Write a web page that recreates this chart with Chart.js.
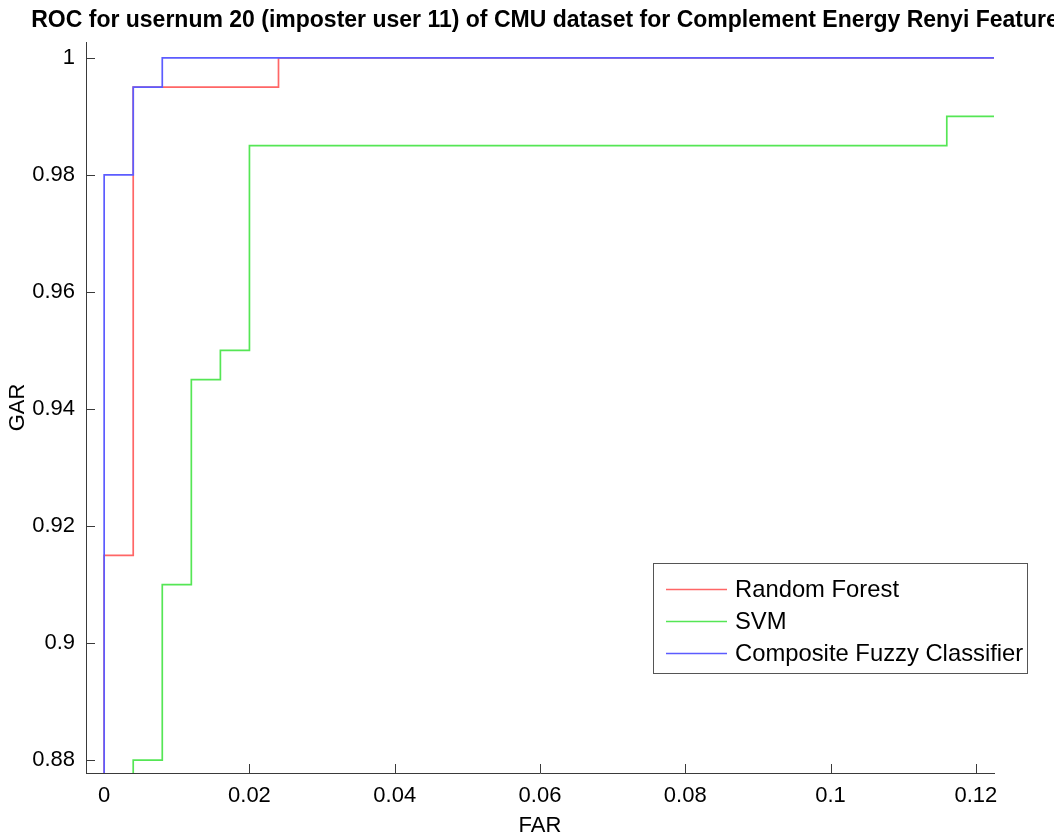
<!DOCTYPE html>
<html>
<head>
<meta charset="utf-8">
<title>ROC usernum 20</title>
<script src="https://cdn.jsdelivr.net/npm/chart.js@4.4.1/dist/chart.umd.min.js"></script>
<style>
    html, body { margin: 0; padding: 0; background: #fff; }
    #wrap { width: 1054px; height: 837px; }
</style>
</head>
<body>
<div id="wrap"><canvas id="roc-chart" width="1054" height="837"></canvas></div>
<script>
// ROC curves: FAR (x) / GAR (y) vertices, one pair of arrays per classifier
const rfFar = [0, 0, 0.004, 0.004, 0.024, 0.024, 0.1225];
const rfGar = [0, 0.915, 0.915, 0.995, 0.995, 1, 1];

const svmFar = [0, 0.004, 0.004, 0.008, 0.008, 0.012, 0.012, 0.016, 0.016, 0.02, 0.02, 0.116, 0.116, 0.1225];
const svmGar = [0, 0, 0.88, 0.88, 0.91, 0.91, 0.945, 0.945, 0.95, 0.95, 0.985, 0.985, 0.99, 0.99];

const cfcFar = [0, 0, 0.004, 0.004, 0.008, 0.008, 0.1225];
const cfcGar = [0, 0.98, 0.98, 0.995, 0.995, 1, 1];

const xTicks = [0, 0.02, 0.04, 0.06, 0.08, 0.1, 0.12];
const xTickLabels = ['0', '0.02', '0.04', '0.06', '0.08', '0.1', '0.12'];
const yTicks = [0.88, 0.9, 0.92, 0.94, 0.96, 0.98, 1];
const yTickLabels = ['0.88', '0.9', '0.92', '0.94', '0.96', '0.98', '1'];

const TITLE = 'ROC for usernum 20 (imposter user 11) of CMU dataset for Complement Energy Renyi Feature';
const FONT = "'Liberation Sans', Arial, sans-serif";
const AXIS_COLOR = '#3a3a3a';

function toPoints(xs, ys) {
    return xs.map((x, i) => ({ x: x, y: ys[i] }));
}

// inward tick marks, drawn under the curves
const innerTicks = {
    id: 'innerTicks',
    beforeDatasetsDraw(chart) {
        const { ctx, chartArea, scales } = chart;
        const len = 9;
        ctx.save();
        ctx.strokeStyle = AXIS_COLOR;
        ctx.lineWidth = 1;
        ctx.beginPath();
        scales.x.ticks.forEach(t => {
            const px = Math.round(scales.x.getPixelForValue(t.value)) + 0.5;
            ctx.moveTo(px, chartArea.bottom);
            ctx.lineTo(px, chartArea.bottom - len);
        });
        scales.y.ticks.forEach(t => {
            const py = Math.round(scales.y.getPixelForValue(t.value)) + 0.5;
            ctx.moveTo(chartArea.left, py);
            ctx.lineTo(chartArea.left + len, py);
        });
        ctx.stroke();
        ctx.restore();
    }
};

// boxed legend sitting inside the plot area
const boxLegend = {
    id: 'boxLegend',
    afterDatasetsDraw(chart) {
        const ctx = chart.ctx;
        const box = { x: 653.5, y: 563.5, w: 374, h: 110 };
        ctx.save();
        ctx.fillStyle = '#fff';
        ctx.fillRect(box.x, box.y, box.w, box.h);
        ctx.strokeStyle = '#555';
        ctx.lineWidth = 1;
        ctx.strokeRect(box.x, box.y, box.w, box.h);
        ctx.font = '23.8px ' + FONT;
        ctx.textBaseline = 'middle';
        ctx.textAlign = 'left';
        chart.data.datasets.forEach((ds, i) => {
            const y = 589.5 + i * 32;
            ctx.strokeStyle = ds.borderColor;
            ctx.lineWidth = ds.borderWidth;
            ctx.beginPath();
            ctx.moveTo(666, y);
            ctx.lineTo(727, y);
            ctx.stroke();
            ctx.fillStyle = '#000';
            ctx.fillText(ds.label, 735, y + 1);
        });
        ctx.restore();
    }
};

const plotTitle = {
    id: 'plotTitle',
    afterDraw(chart) {
        const ctx = chart.ctx;
        ctx.save();
        ctx.font = 'bold 23px ' + FONT;
        ctx.fillStyle = '#000';
        ctx.textAlign = 'center';
        ctx.textBaseline = 'middle';
        ctx.fillText(TITLE, 545, 21);
        ctx.restore();
    }
};

function renderChart() {
    const ctx = document.getElementById('roc-chart');

    new Chart(ctx, {
        type: 'line',
        data: {
            datasets: [{
                label: 'Random Forest',
                data: toPoints(rfFar, rfGar),
                borderColor: '#ff6666',
                borderWidth: 1.7,
                order: 3
            }, {
                label: 'SVM',
                data: toPoints(svmFar, svmGar),
                borderColor: '#55e655',
                borderWidth: 1.7,
                order: 2
            }, {
                label: 'Composite Fuzzy Classifier',
                data: toPoints(cfcFar, cfcGar),
                borderColor: '#5c5cff',
                borderWidth: 1.7,
                order: 1
            }]
        },
        options: {
            responsive: false,
            animation: false,
            events: [],
            elements: {
                point: { radius: 0 },
                line: { tension: 0, fill: false }
            },
            layout: {
                padding: { top: 42, right: 60, bottom: 0, left: 0 }
            },
            plugins: {
                legend: { display: false },
                title: { display: false },
                tooltip: { enabled: false }
            },
            scales: {
                x: {
                    type: 'linear',
                    min: -0.0025,
                    max: 0.1225,
                    afterBuildTicks: scale => {
                        scale.ticks = xTicks.map(v => ({ value: v }));
                    },
                    afterFit: scale => {
                        scale.height = 64;
                    },
                    ticks: {
                        autoSkip: false,
                        maxRotation: 0,
                        padding: 10,
                        color: '#000',
                        font: { family: FONT, size: 22 },
                        callback: (value, index) => xTickLabels[index]
                    },
                    grid: { display: false, drawTicks: false },
                    border: { display: true, color: AXIS_COLOR, width: 1 },
                    title: {
                        display: true,
                        text: 'FAR',
                        color: '#000',
                        font: { family: FONT, size: 22, lineHeight: 1 },
                        padding: { top: 0, bottom: 0 }
                    }
                },
                y: {
                    type: 'linear',
                    min: 0.8778,
                    max: 1.0027,
                    afterBuildTicks: scale => {
                        scale.ticks = yTicks.map(v => ({ value: v }));
                    },
                    afterFit: scale => {
                        scale.width = 86;
                    },
                    ticks: {
                        autoSkip: false,
                        padding: 11,
                        color: '#000',
                        font: { family: FONT, size: 22 },
                        callback: (value, index) => yTickLabels[index]
                    },
                    grid: { display: false, drawTicks: false },
                    border: { display: true, color: AXIS_COLOR, width: 1 },
                    title: {
                        display: true,
                        text: 'GAR',
                        color: '#000',
                        font: { family: FONT, size: 22, lineHeight: 1 },
                        padding: { top: 7, bottom: 0 }
                    }
                }
            }
        },
        plugins: [innerTicks, boxLegend, plotTitle]
    });
}

renderChart();
</script>
</body>
</html>
